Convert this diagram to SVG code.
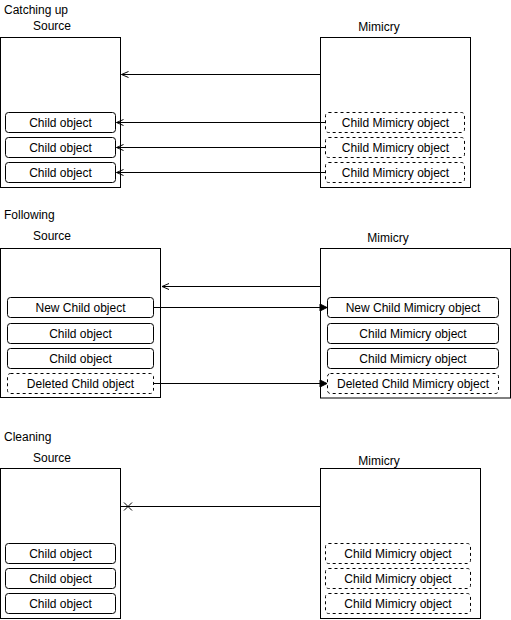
<svg xmlns="http://www.w3.org/2000/svg" width="511" height="620" viewBox="0 0 511 620">
<defs>
<style>
text{font-family:"Liberation Sans",Arial,Helvetica,sans-serif;font-size:12px;fill:#000}
.c{text-anchor:middle}
.box{fill:#fff;stroke:#000;stroke-width:1}
.ch{fill:#fff;stroke:#000;stroke-width:1}
.dash{fill:#fff;stroke:#000;stroke-width:1;stroke-dasharray:3 3}
.ln{fill:none;stroke:#000;stroke-width:1}
</style>
<marker id="open" markerUnits="userSpaceOnUse" markerWidth="10" markerHeight="10" viewBox="-8 -5 10 10" refX="0" refY="0" orient="auto">
<path d="M-7,-3 L0,0 L-7,3" fill="none" stroke="#000" stroke-width="1"/>
</marker>
<marker id="block" markerUnits="userSpaceOnUse" markerWidth="10" markerHeight="10" viewBox="-8 -5 10 10" refX="0" refY="0" orient="auto">
<path d="M-7,-3.5 L0,0 L-7,3.5 Z" fill="#000" stroke="#000" stroke-width="1"/>
</marker>
</defs>

<text x="4" y="14">Catching up</text>
<text x="4" y="219">Following</text>
<text x="4" y="441">Cleaning</text>

<g id="s1-source">
<text class="c" x="52" y="30">Source</text>
<rect class="box" x="0.5" y="37.5" width="120" height="150"/>
</g>
<g id="s1-child1"><rect class="ch" x="5.5" y="112.5" width="110" height="20" rx="3"/><text class="c" x="60.5" y="127">Child object</text></g>
<g id="s1-child2"><rect class="ch" x="5.5" y="137.5" width="110" height="20" rx="3"/><text class="c" x="60.5" y="152">Child object</text></g>
<g id="s1-child3"><rect class="ch" x="5.5" y="162.5" width="110" height="20" rx="3"/><text class="c" x="60.5" y="177">Child object</text></g>

<g id="s1-mimicry">
<text class="c" x="379" y="31">Mimicry</text>
<rect class="box" x="320.5" y="37.5" width="150" height="150"/>
</g>
<g id="s1-mchild1"><rect class="dash" x="325.5" y="112.5" width="139" height="20" rx="3"/><text class="c" x="395.5" y="127">Child Mimicry object</text></g>
<g id="s1-mchild2"><rect class="dash" x="325.5" y="137.5" width="139" height="20" rx="3"/><text class="c" x="395.5" y="152">Child Mimicry object</text></g>
<g id="s1-mchild3"><rect class="dash" x="325.5" y="162.5" width="139" height="20" rx="3"/><text class="c" x="395.5" y="177">Child Mimicry object</text></g>

<g id="s2-source">
<text class="c" x="52" y="240">Source</text>
<rect class="box" x="0.5" y="248.5" width="160" height="149"/>
</g>
<g id="s2-child1"><rect class="ch" x="7.5" y="297.5" width="146" height="20" rx="3"/><text class="c" x="80.5" y="312">New Child object</text></g>
<g id="s2-child2"><rect class="ch" x="7.5" y="323.5" width="146" height="20" rx="3"/><text class="c" x="80.5" y="338">Child object</text></g>
<g id="s2-child3"><rect class="ch" x="7.5" y="348.5" width="146" height="20" rx="3"/><text class="c" x="80.5" y="363">Child object</text></g>
<g id="s2-child4"><rect class="dash" x="7.5" y="373.5" width="146" height="20" rx="3"/><text class="c" x="80.5" y="388">Deleted Child object</text></g>

<g id="s2-mimicry">
<text class="c" x="388" y="242">Mimicry</text>
<rect class="box" x="320.5" y="248.5" width="190" height="149.5"/>
</g>
<g id="s2-mchild1"><rect class="ch" x="327.5" y="297.5" width="171" height="20" rx="3"/><text class="c" x="413" y="312">New Child Mimicry object</text></g>
<g id="s2-mchild2"><rect class="ch" x="327.5" y="323.5" width="171" height="20" rx="3"/><text class="c" x="413" y="338">Child Mimicry object</text></g>
<g id="s2-mchild3"><rect class="ch" x="327.5" y="348.5" width="171" height="20" rx="3"/><text class="c" x="413" y="363">Child Mimicry object</text></g>
<g id="s2-mchild4"><rect class="dash" x="327.5" y="373.5" width="171" height="20" rx="3"/><text class="c" x="413" y="388">Deleted Child Mimicry object</text></g>

<g id="s3-source">
<text class="c" x="52" y="462">Source</text>
<rect class="box" x="0.5" y="468.5" width="120" height="150"/>
</g>
<g id="s3-child1"><rect class="ch" x="5.5" y="543.5" width="110" height="20" rx="3"/><text class="c" x="60.5" y="558">Child object</text></g>
<g id="s3-child2"><rect class="ch" x="5.5" y="568.5" width="110" height="20" rx="3"/><text class="c" x="60.5" y="583">Child object</text></g>
<g id="s3-child3"><rect class="ch" x="5.5" y="593.5" width="110" height="20" rx="3"/><text class="c" x="60.5" y="608">Child object</text></g>

<g id="s3-mimicry">
<text class="c" x="379" y="465">Mimicry</text>
<rect class="box" x="320.5" y="468.5" width="160" height="150"/>
</g>
<g id="s3-mchild1"><rect class="dash" x="325.5" y="543.5" width="145" height="20" rx="3"/><text class="c" x="398" y="558">Child Mimicry object</text></g>
<g id="s3-mchild2"><rect class="dash" x="325.5" y="568.5" width="145" height="20" rx="3"/><text class="c" x="398" y="583">Child Mimicry object</text></g>
<g id="s3-mchild3"><rect class="dash" x="325.5" y="593.5" width="145" height="20" rx="3"/><text class="c" x="398" y="608">Child Mimicry object</text></g>

<g id="connectors">
<path class="ln" d="M320,74.5 L121.5,74.5" marker-end="url(#open)"/>
<path class="ln" d="M325,122.5 L116.5,122.5" marker-end="url(#open)"/>
<path class="ln" d="M325,147.5 L116.5,147.5" marker-end="url(#open)"/>
<path class="ln" d="M325,172.5 L116.5,172.5" marker-end="url(#open)"/>
<path class="ln" d="M320,286.5 L162,286.5" marker-end="url(#open)"/>
<path class="ln" d="M154,307.5 L327,307.5" marker-end="url(#block)"/>
<path class="ln" d="M154,383.5 L327,383.5" marker-end="url(#block)"/>
<path class="ln" d="M320,506.5 L121,506.5"/>
<path class="ln" d="M124,502.5 L132,510.5 M132,502.5 L124,510.5"/>
</g>
</svg>
